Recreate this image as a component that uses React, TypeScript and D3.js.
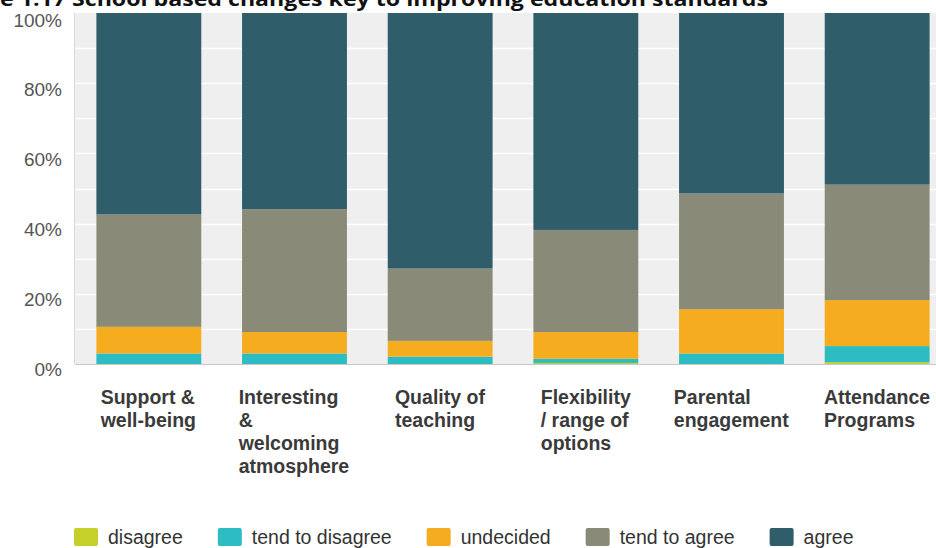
import React, { useEffect, useRef } from "react";
import * as d3 from "d3";

const titleText = "e 1.17 School based changes key to improving education standards";
const categories = [
  "Support &\nwell-being",
  "Interesting\n&\nwelcoming\natmosphere",
  "Quality of\nteaching",
  "Flexibility\n/ range of\noptions",
  "Parental\nengagement",
  "Attendance\nPrograms",
];
const seriesNames = ["disagree", "tend to disagree", "undecided", "tend to agree", "agree"];
const seriesColors = ["#c5d02b", "#2dbcc1", "#f5ac1f", "#8a8a78", "#2f5e6a"];
const disagree = [0, 0, 0, 0.3, 0, 0.5];
const tendToDisagree = [3.0, 3.0, 2.1, 1.2, 3.0, 4.6];
const undecided = [7.6, 6.1, 4.5, 7.6, 12.6, 13.1];
const tendToAgree = [32.0, 35.0, 20.6, 29.1, 33.0, 32.9];
const agree = [57.4, 55.9, 72.8, 61.8, 51.4, 48.9];
const yTicks = [0, 20, 40, 60, 80, 100];
const gridTicks = [10, 20, 30, 40, 50, 60, 70, 80, 90];

const W = 936;
const H = 548;

export default function App() {
  const ref = useRef<SVGSVGElement | null>(null);

  useEffect(() => {
    const svg = d3.select(ref.current);
    svg.selectAll("*").remove();

    const plotLeft = 75;
    const plotRight = W;
    const plotTop = 13;
    const plotBottom = 364;

    const rows = categories.map((c, i) => ({
      cat: c,
      "disagree": disagree[i],
      "tend to disagree": tendToDisagree[i],
      "undecided": undecided[i],
      "tend to agree": tendToAgree[i],
      "agree": agree[i],
    }));

    const x = d3
      .scaleBand<string>()
      .domain(categories)
      .range([76, 950])
      .paddingInner(0.28)
      .paddingOuter(0.14);
    const y = d3.scaleLinear().domain([0, 100]).range([plotBottom, plotTop]);

    // plot background
    svg
      .append("rect")
      .attr("x", plotLeft)
      .attr("y", plotTop)
      .attr("width", plotRight - plotLeft)
      .attr("height", plotBottom - plotTop)
      .attr("fill", "#efefef");

    // gridlines
    svg
      .append("g")
      .selectAll("line")
      .data(gridTicks)
      .join("line")
      .attr("x1", plotLeft)
      .attr("x2", plotRight)
      .attr("y1", (d) => Math.round(y(d)) + 0.5)
      .attr("y2", (d) => Math.round(y(d)) + 0.5)
      .attr("stroke", "#ffffff")
      .attr("stroke-width", 1.5);

    // stacked bars
    const stack = d3.stack<any>().keys(seriesNames);
    const stacked = stack(rows);
    svg
      .append("g")
      .selectAll("g")
      .data(stacked)
      .join("g")
      .attr("fill", (_d, i) => seriesColors[i])
      .selectAll("rect")
      .data((d) => d)
      .join("rect")
      .attr("x", (d: any) => x(d.data.cat) as number)
      .attr("width", x.bandwidth())
      .attr("y", (d) => y(d[1]))
      .attr("height", (d) => Math.max(0, y(d[0]) - y(d[1])));

    // axis lines
    svg
      .append("line")
      .attr("x1", plotLeft)
      .attr("x2", plotRight)
      .attr("y1", plotBottom + 0.5)
      .attr("y2", plotBottom + 0.5)
      .attr("stroke", "#c8c8c8");
    svg
      .append("line")
      .attr("x1", plotLeft - 0.5)
      .attr("x2", plotLeft - 0.5)
      .attr("y1", plotTop)
      .attr("y2", plotBottom)
      .attr("stroke", "#d8d8d8");

    // y labels
    svg
      .append("g")
      .selectAll("text")
      .data(yTicks)
      .join("text")
      .attr("x", 62)
      .attr("y", (d) => y(d) + 11.5 + d * 0.02)
      .attr("text-anchor", "end")
      .attr("font-family", "Liberation Sans, Arial, sans-serif")
      .attr("font-size", 19)
      .attr("fill", "#555555")
      .text((d) => `${d}%`);

    // category labels (block centred under bar, lines left aligned)
    categories.forEach((c) => {
      const g = svg.append("g");
      const t = g
        .append("text")
        .attr("font-family", "Liberation Sans, Arial, sans-serif")
        .attr("font-weight", "bold")
        .attr("font-size", 19.5)
        .attr("fill", "#3a3a3a");
      c.split("\n").forEach((line, li) => {
        t.append("tspan").attr("x", 0).attr("y", 404 + li * 23).text(line);
      });
      const node = t.node() as SVGTextElement;
      const bw = node.getBBox().width;
      const cx = (x(c) as number) + x.bandwidth() / 2;
      g.attr("transform", `translate(${cx - bw / 2},0)`);
    });

    // legend
    const lg = svg.append("g");
    let lx = 74;
    seriesNames.forEach((s, i) => {
      lg.append("rect")
        .attr("x", lx)
        .attr("y", 528)
        .attr("width", 24)
        .attr("height", 18)
        .attr("rx", 2)
        .attr("fill", seriesColors[i]);
      const t = lg
        .append("text")
        .attr("x", lx + 34)
        .attr("y", 544)
        .attr("font-family", "Liberation Sans, Arial, sans-serif")
        .attr("font-size", 19.5)
        .attr("fill", "#333333")
        .text(s);
      const tw = (t.node() as SVGTextElement).getComputedTextLength();
      lx = lx + 34 + tw + 35;
    });

    // title (cut off at the top-left like the source)
    svg
      .append("text")
      .attr("x", 0)
      .attr("y", 6)
      .attr("font-family", "Open Sans, Noto Sans, sans-serif")
      .attr("font-weight", "bold")
      .attr("font-size", 20)
      .attr("fill", "#111111")
      .attr("textLength", 768)
      .attr("lengthAdjust", "spacingAndGlyphs")
      .text(titleText);
  }, []);

  return (
    <svg
      ref={ref}
      width={W}
      height={H}
      style={{ position: "absolute", left: 0, top: 0, background: "#ffffff" }}
    />
  );
}
